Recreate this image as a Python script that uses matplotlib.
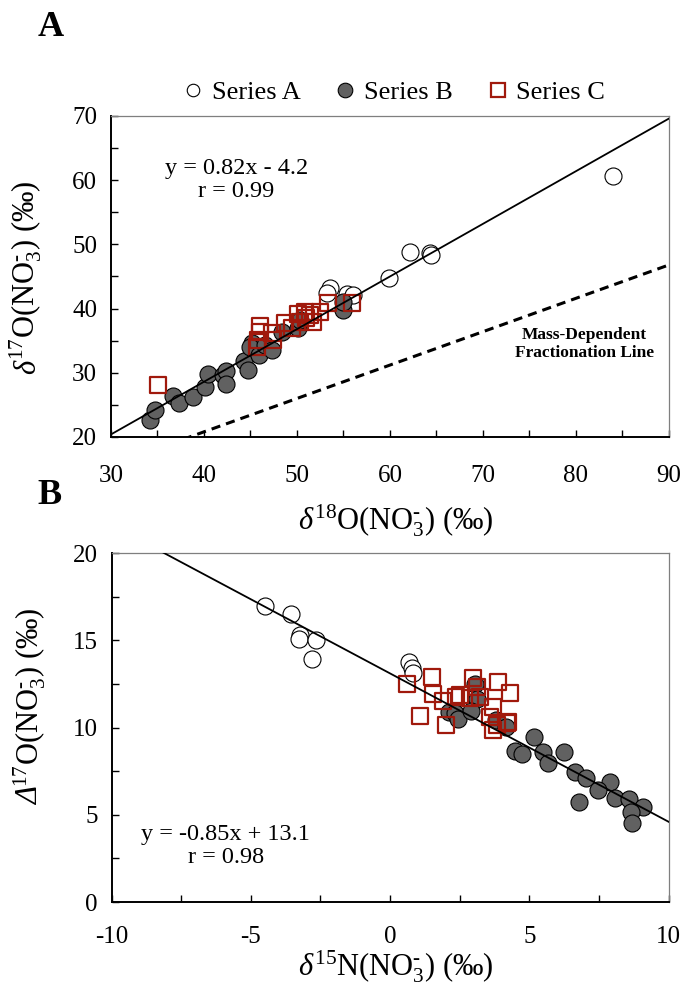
import numpy as np
import matplotlib
matplotlib.use("Agg")
import matplotlib.pyplot as plt
from matplotlib.lines import Line2D
from matplotlib.ticker import MultipleLocator

plt.rcParams["font.family"] = ["Liberation Serif", "DejaVu Serif"]
plt.rcParams["mathtext.fontset"] = "custom"
plt.rcParams["mathtext.rm"] = "Liberation Serif"
plt.rcParams["mathtext.it"] = "Liberation Serif:italic"
plt.rcParams["mathtext.bf"] = "Liberation Serif:bold"
plt.rcParams["axes.unicode_minus"] = False

# --- data ---------------------------------------------------------------------------
series_names = ["Series A", "Series B", "Series C"]

# panel A: d18O vs d17O
a_ser_a_x = [84.0, 62.2, 64.3, 64.4, 59.9, 53.5, 53.2, 55.4, 56.0]
a_ser_a_y = [60.6, 48.8, 48.7, 48.4, 44.8, 43.2, 42.4, 42.2, 42.1]

a_ser_b_x = [34.2, 34.7, 36.7, 37.3, 38.8, 40.1, 40.4, 42.0, 42.4, 42.4, 44.3,
             44.7, 45.2, 44.9, 45.9, 46.6, 47.3, 48.4, 50.1, 50.3, 54.9, 54.9]
a_ser_b_y = [22.6, 24.2, 26.4, 25.3, 26.3, 27.8, 29.8, 29.7, 30.3, 28.3, 31.8,
             30.4, 34.6, 34.0, 32.8, 34.3, 33.5, 36.4, 37.0, 38.2, 39.8, 41.0]

a_ser_c_x = [35.1, 46.0, 46.0, 45.7, 45.8, 47.3, 47.4, 48.7, 50.1, 50.3, 50.9,
             51.4, 51.7, 52.5, 53.3, 55.9, 51.0, 49.5]
a_ser_c_y = [28.1, 37.3, 36.4, 34.0, 35.1, 36.2, 35.1, 37.8, 39.2, 37.9, 39.5,
             39.0, 37.9, 39.5, 40.9, 40.9, 38.5, 37.0]

# panel B: d15N vs D17O
b_ser_a_x = [-4.48, -3.55, -3.23, -3.26, -2.65, -2.8, 0.68, 0.79, 0.82]
b_ser_a_y = [16.96, 16.5, 15.3, 15.07, 15.0, 13.9, 13.75, 13.4, 13.1]

b_ser_b_x = [3.05, 3.12, 2.11, 2.33, 2.44, 2.9, 3.8, 4.15, 5.15, 4.5, 4.73, 5.48,
             5.66, 6.24, 6.63, 7.03, 7.89, 7.46, 8.06, 6.77, 8.57, 9.07, 8.64, 8.67]
b_ser_b_y = [12.49, 11.63, 10.9, 10.83, 10.49, 10.95, 10.43, 10.05, 9.43, 8.68,
             8.48, 8.6, 7.97, 8.6, 7.45, 7.1, 6.88, 6.42, 5.96, 5.73, 5.9, 5.45,
             5.16, 4.53]

b_ser_c_x = [0.61, 1.51, 1.54, 1.9, 1.08, 2.01, 2.37, 2.51, 2.97, 3.12, 3.23,
             2.87, 3.87, 4.3, 3.69, 3.58, 4.23, 3.69, 3.84, 4.19]
b_ser_c_y = [12.49, 12.9, 11.9, 11.52, 10.66, 10.14, 11.75, 11.86, 12.84, 12.32,
             11.75, 11.69, 12.6, 11.98, 11.17, 10.6, 10.31, 9.86, 10.14, 10.26]

# regression / reference lines (slope, intercept)
fit_a = (0.82, -4.2)
mdf_line = (0.52, 0.0)
fit_b = (-0.85, 13.1)

GRAY = "#616161"
RED = "#A0190C"
NO3 = r"(NO$_3^{\text{-}}$) (‰)"
W, H = 685, 992


def scatter_series(ax, xa, ya, xb, yb, xc, yc):
    ax.scatter(xa, ya, s=150, facecolor="white", edgecolor="black", lw=0.8, zorder=3)
    ax.scatter(xb, yb, s=150, facecolor=GRAY, edgecolor="black", lw=0.8, zorder=4)
    ax.scatter(xc, yc, s=130, marker="s", facecolor="none", edgecolor=RED, lw=1.6,
               zorder=5)


def style_axes(ax, xpad):
    for side in ("left", "bottom"):
        ax.spines[side].set_color("black")
        ax.spines[side].set_linewidth(1.4)
    for side in ("top", "right"):
        ax.spines[side].set_color("#7f7f7f")
        ax.spines[side].set_linewidth(0.9)
    ax.tick_params(which="both", direction="in", length=5, width=1.0,
                   top=False, right=False, labelsize=18)
    ax.tick_params(axis="y", pad=10)
    ax.tick_params(axis="x", pad=xpad)


def rotated_label(x_px, y_px, prefix, rest, size=22):
    """Vertical label with an italic Greek prefix; (x_px, y_px) = baseline point
    between prefix and the rest, in figure pixels from top-left."""
    kw = dict(rotation=90, rotation_mode="anchor", va="baseline", fontsize=size)
    x, y = x_px / W, 1 - y_px / H
    fig.text(x, y, prefix, ha="right", style="italic", **kw)
    fig.text(x, y, rest, ha="left", **kw)


fig = plt.figure(figsize=(W / 100, H / 100), dpi=100)

# --- panel A ------------------------------------------------------------------------
ax1 = fig.add_axes([0.162, 0.5595, 0.8146, 0.3236])
scatter_series(ax1, a_ser_a_x, a_ser_a_y, a_ser_b_x, a_ser_b_y, a_ser_c_x, a_ser_c_y)
xx = np.array([30, 90])
ax1.plot(xx, fit_a[0] * xx + fit_a[1], color="black", lw=1.3, zorder=6)
ax1.plot(xx, mdf_line[0] * xx + mdf_line[1], color="black", lw=2.2, ls=(0, (3, 2)),
         zorder=2)
ax1.set_xlim(30, 90)
ax1.set_ylim(20, 70)
ax1.xaxis.set_major_locator(MultipleLocator(10))
ax1.xaxis.set_minor_locator(MultipleLocator(5))
ax1.yaxis.set_major_locator(MultipleLocator(10))
ax1.yaxis.set_minor_locator(MultipleLocator(5))
style_axes(ax1, xpad=20)
ax1.text(43.5, 60.0, "y = 0.82x - 4.2\nr = 0.99", ha="center", va="center",
         fontsize=17.5, linespacing=1.15)
ax1.text(80.9, 34.5, "Mass-Dependent\nFractionation Line", ha="center", va="center",
         fontsize=12.5, fontweight="bold", linespacing=1.15)
ax1.set_xlabel(r"$\mathit{\delta}^{18}$O" + NO3, fontsize=22)
ax1.xaxis.set_label_coords(0.51, -0.205)

# --- panel B ------------------------------------------------------------------------
ax2 = fig.add_axes([0.163, 0.0907, 0.813, 0.3518])
scatter_series(ax2, b_ser_a_x, b_ser_a_y, b_ser_b_x, b_ser_b_y, b_ser_c_x, b_ser_c_y)
xx = np.array([-10, 10])
ax2.plot(xx, fit_b[0] * xx + fit_b[1], color="black", lw=1.3, zorder=6)
ax2.set_xlim(-10, 10)
ax2.set_ylim(0, 20)
ax2.xaxis.set_major_locator(MultipleLocator(5))
ax2.xaxis.set_minor_locator(MultipleLocator(2.5))
ax2.yaxis.set_major_locator(MultipleLocator(5))
ax2.yaxis.set_minor_locator(MultipleLocator(2.5))
style_axes(ax2, xpad=17)
ax2.text(-5.9, 3.2, "y = -0.85x + 13.1\nr = 0.98", ha="center", va="center",
         fontsize=17.5, linespacing=1.15)
ax2.set_xlabel(r"$\mathit{\delta}^{15}$N" + NO3, fontsize=22)
ax2.xaxis.set_label_coords(0.51, -0.132)

# vertical labels (italic Greek prefix drawn as its own text)
rotated_label(35, 360, "δ", r"$^{17}$O" + NO3)
rotated_label(38, 787, "Δ", r"$^{17}$O" + NO3)

# panel letters
fig.text(0.055, 0.972, "A", fontsize=26, fontweight="bold", va="center")
fig.text(0.055, 0.500, "B", fontsize=26, fontweight="bold", va="center")

# legend
handles = [
    Line2D([], [], ls="none", marker="o", ms=9, mfc="white", mec="black", mew=0.8),
    Line2D([], [], ls="none", marker="o", ms=10.5, mfc=GRAY, mec="black", mew=0.8),
    Line2D([], [], ls="none", marker="s", ms=10, mfc="none", mec=RED, mew=1.6),
]
fig.legend(handles, series_names, loc="center", bbox_to_anchor=(0.575, 0.907),
           ncol=3, frameon=False, fontsize=19, handlelength=0.8, handletextpad=0.3,
           columnspacing=1.3)

fig.savefig("out.png", dpi=100)
